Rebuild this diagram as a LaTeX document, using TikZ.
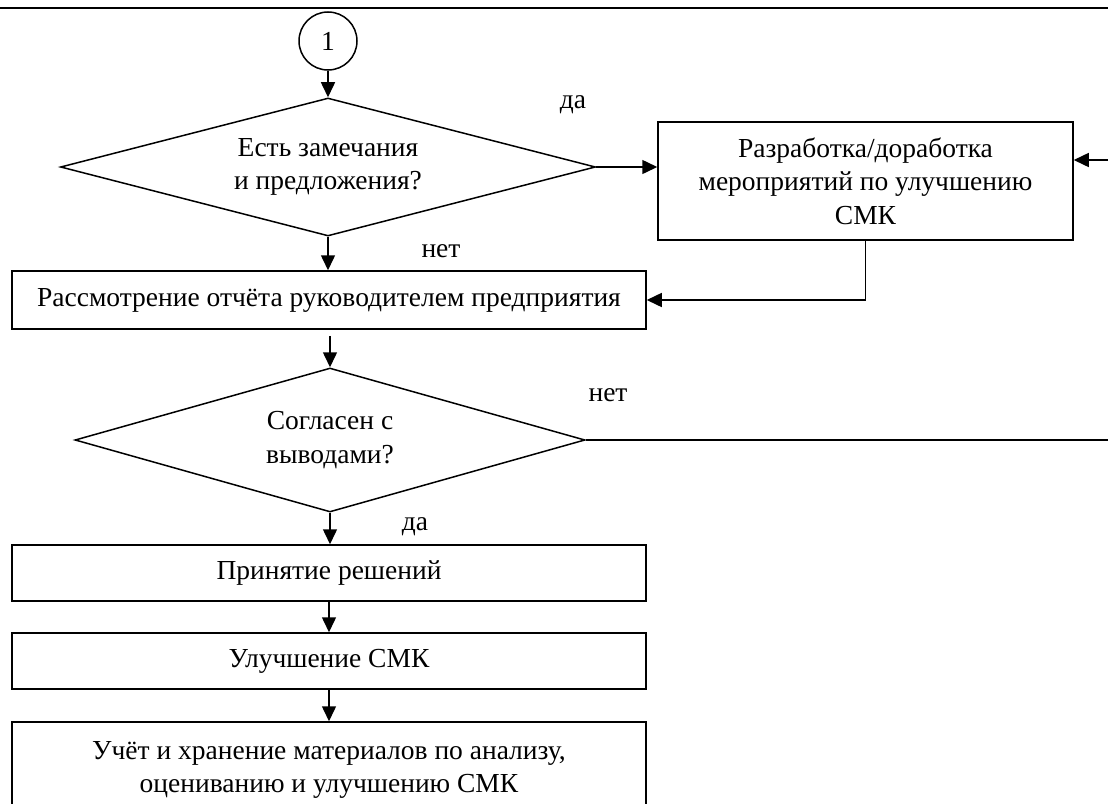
\documentclass[tikz,border=0pt]{standalone}
\usepackage{fontspec}
\setmainfont{Liberation Serif}
\usetikzlibrary{shapes.geometric,arrows.meta}

\begin{document}
\begin{tikzpicture}[x=1pt,y=-1pt,line width=1.5pt,font=\fontsize{27.5}{33.5}\selectfont,
	blk/.style={draw,rectangle,align=center,inner sep=0pt},
	rmb/.style={draw,diamond,align=center,inner sep=0pt,aspect=3.8},
	arr/.style={-{Triangle[length=15pt,width=14pt]}}]
			\useasboundingbox (0,0) rectangle (1108,803);
			\clip (0,0) rectangle (1108,803);
			\coordinate (t1) at (0,8);
			\coordinate (t2) at (1108,8);
			\coordinate (r1) at (1108,160);
			\coordinate (r2) at (1108,440);
			\draw[line width=2.8pt] (t1)--(t2);

			\node (k1)[draw,circle,minimum size=58pt,inner sep=0pt] at (328,41) {1};
			\node (d1)[rmb,minimum width=535pt,minimum height=138pt] at (328,167) {Есть замечания\\и предложения?};
			\node (a)[blk,minimum width=415pt,minimum height=118pt] at (865.5,181) {Разработка/доработка\\мероприятий по улучшению\\СМК};
			\node (b)[blk,minimum width=634pt,minimum height=58pt] at (329,300) {Рассмотрение отчёта руководителем предприятия};
			\node (d2)[rmb,minimum width=510pt,minimum height=144pt] at (330,440) {Согласен с\\выводами?};
			\node (c)[blk,minimum width=634pt,minimum height=56pt] at (329,573) {Принятие решений};
			\node (e)[blk,minimum width=634pt,minimum height=56pt] at (329,661) {Улучшение СМК};
			\node (f)[blk,minimum width=634pt,minimum height=96pt] at (329,770) {Учёт и хранение материалов по анализу,\\оцениванию и улучшению СМК};

			\node (y1) at (573,105) {да};
			\node (n1) at (441,251) {нет};
			\node (n2) at (608,395) {нет};
			\node (y2) at (415,527) {да};

			\draw[arr] (k1)--(d1);
			\draw[arr] (d1.east)--(d1.east -| a.west);
			\draw[arr] (r1)--(r1 -| a.east);
			\draw[arr] (a.south) |- (b.east);
			\draw[arr] (d1.south)--(d1.south |- b.north);
			\draw[arr,shorten <=6pt] (d2.north |- b.south)--(d2.north);
			\draw (d2.east)--(r2);
			\draw[arr] (d2.south)--(d2.south |- c.north);
			\draw[arr] (c)--(e);
			\draw[arr] (e)--(f);
		\end{tikzpicture}
\end{document}
